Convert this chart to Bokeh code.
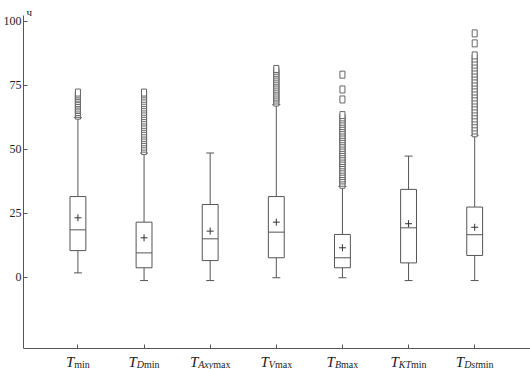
from bokeh.plotting import figure
from bokeh.models import Range1d, FixedTicker, Label, LinearAxis
from bokeh.embed import file_html
from bokeh.resources import INLINE

# ---------------- data ----------------
positions = [1, 2, 3, 4, 5, 6, 7]
sub_italic = ["", "D", "Axy", "V", "B", "KT", "Dst"]
sub_roman = ["min", "min", "max", "max", "max", "min", "min"]

q1 = [10.5, 3.8, 6.6, 7.7, 3.8, 5.7, 8.6]
median = [18.6, 9.6, 15.1, 17.7, 7.7, 19.4, 16.7]
q3 = [31.6, 21.6, 28.5, 31.6, 16.8, 34.4, 27.5]
lower = [1.8, -1.2, -1.2, -0.1, -0.1, -1.2, -1.2]
upper = [62.4, 48.6, 48.6, 67.5, 35.5, 47.4, 55.5]
mean = [23.3, 15.5, 18.1, 21.6, 11.6, 21.0, 19.6]

out_tmin = [63.2, 63.9, 64.6, 65.4, 66.0, 66.8, 67.5, 68.1, 68.9, 69.6, 70.2, 70.9, 71.5, 72.2]
out_tdmin = [49.4, 50.3, 51.1, 52.0, 52.8, 53.7, 54.5, 55.4, 56.2, 57.1, 58.0, 58.8, 59.6, 60.5,
             61.3, 62.2, 63.0, 63.9, 64.7, 65.6, 66.4, 67.3, 68.1, 69.0, 69.8, 70.7, 71.5, 72.2]
out_taxymax = []
out_tvmax = [68.3, 69.1, 69.9, 70.6, 71.4, 72.2, 73.0, 73.7, 74.5, 75.3, 76.1, 76.8, 77.6, 78.4,
             79.2, 79.9, 80.7, 81.4]
out_tbmax = [36.2, 37.0, 37.9, 38.7, 39.6, 40.4, 41.3, 42.1, 43.0, 43.8, 44.7, 45.5, 46.4, 47.2,
             48.1, 48.9, 49.8, 50.6, 51.5, 52.3, 53.2, 54.0, 54.9, 55.7, 56.6, 57.4, 58.3, 59.1,
             60.0, 60.8, 61.7, 62.5, 63.4, 69.5, 73.4, 79.2]
out_tktmin = []
out_tdstmin = [56.3, 57.4, 58.6, 59.8, 61.0, 62.1, 63.3, 64.5, 65.6, 66.8, 68.0, 69.1, 70.3, 71.5,
               72.6, 73.8, 75.0, 76.1, 77.3, 78.5, 79.6, 80.8, 82.0, 83.1, 84.3, 85.5, 86.7,
               91.4, 95.3]
outliers = [out_tmin, out_tdmin, out_taxymax, out_tvmax, out_tbmax, out_tktmin, out_tdstmin]

y_ticks = [0, 25, 50, 75, 100]
y_unit = "ч"

# ---------------- style / layout ----------------
LINE = "#555555"
TEXT = "#222222"
FONT = "Liberation Serif"
W, H = 530, 369
Y_AXIS_LO, Y_AXIS_HI = -27.7, 102.3      # extent of the drawn axes
YLO, YHI = -35.92, 108.14                # frame range (room for labels)
XLO, XHI = 0.177, 7.844
ppu = H / (YHI - YLO)

p = figure(width=W, height=H, output_backend="svg", toolbar_location=None,
           x_range=Range1d(XLO, XHI), y_range=Range1d(YLO, YHI),
           x_axis_location=None,
           min_border_left=0, min_border_right=0, min_border_top=0,
           min_border_bottom=0)
p.outline_line_color = None
p.grid.visible = False
p.background_fill_color = "white"

xaxis = LinearAxis(fixed_location=Y_AXIS_LO, ticker=FixedTicker(ticks=positions),
                   major_label_overrides={k: "" for k in positions})
p.add_layout(xaxis, "below")
p.yaxis.ticker = FixedTicker(ticks=y_ticks)
p.yaxis.bounds = (Y_AXIS_LO, Y_AXIS_HI)
for ax in (xaxis, p.yaxis[0]):
    ax.axis_line_color = LINE
    ax.major_tick_line_color = LINE
    ax.major_tick_in = 4
    ax.major_tick_out = 0
    ax.minor_tick_line_color = None
xaxis.major_label_standoff = 0
p.yaxis.major_label_standoff = 2
p.yaxis.major_label_text_font = FONT
p.yaxis.major_label_text_font_size = "12px"
p.yaxis.major_label_text_color = TEXT

BW = 0.12   # half box width
CW = 0.06   # half cap width

# whiskers
p.segment(x0=positions, y0=q3, x1=positions, y1=upper, line_color=LINE, line_width=1)
p.segment(x0=positions, y0=q1, x1=positions, y1=lower, line_color=LINE, line_width=1)
# caps
p.segment(x0=[x - CW for x in positions], y0=upper, x1=[x + CW for x in positions], y1=upper,
          line_color=LINE, line_width=1)
p.segment(x0=[x - CW for x in positions], y0=lower, x1=[x + CW for x in positions], y1=lower,
          line_color=LINE, line_width=1)
# boxes
p.quad(left=[x - BW for x in positions], right=[x + BW for x in positions], bottom=q1, top=q3,
       fill_color="white", line_color=LINE, line_width=1)
# medians
p.segment(x0=[x - BW for x in positions], y0=median, x1=[x + BW for x in positions], y1=median,
          line_color=LINE, line_width=1)
# means
p.scatter(x=positions, y=mean, marker="cross", size=7, line_color="#333333", line_width=1)

# outliers
ox, oy = [], []
for x, vals in zip(positions, outliers):
    for v in vals:
        ox.append(x)
        oy.append(v)
p.rect(x=ox, y=oy, width=5, height=7, width_units="screen", height_units="screen",
       fill_color="white", line_color="#666666", line_width=1)

# unit label
p.add_layout(Label(x=XLO, y=Y_AXIS_HI + 1.2, x_offset=3, text=y_unit, text_font=FONT,
                   text_font_size="11px", text_color=TEXT, text_baseline="alphabetic"))

# category labels: italic T with subscript
WID_IT = {"T": .556, "D": .722, "A": .611, "x": .444, "y": .444, "V": .611, "B": .611,
          "K": .667, "s": .389, "t": .278}
WID_RM = {"m": .778, "i": .278, "n": .5, "a": .444, "x": .5}
T_SIZE, S_SIZE = 15, 10
yT = Y_AXIS_LO - 13.7 / ppu
yS = Y_AXIS_LO - 16.0 / ppu
for x, si, sr in zip(positions, sub_italic, sub_roman):
    wT = WID_IT["T"] * T_SIZE
    wI = sum(WID_IT[c] for c in si) * S_SIZE
    wR = sum(WID_RM[c] for c in sr) * S_SIZE
    start = -(wT + wI + wR) / 2
    p.add_layout(Label(x=x, y=yT, x_offset=start, text="T", text_font=FONT,
                       text_font_style="italic", text_font_size=f"{T_SIZE}px",
                       text_color=TEXT, text_align="left", text_baseline="alphabetic"))
    if si:
        p.add_layout(Label(x=x, y=yS, x_offset=start + wT, text=si, text_font=FONT,
                           text_font_style="italic", text_font_size=f"{S_SIZE}px",
                           text_color=TEXT, text_align="left", text_baseline="alphabetic"))
    p.add_layout(Label(x=x, y=yS, x_offset=start + wT + wI, text=sr, text_font=FONT,
                       text_font_size=f"{S_SIZE}px", text_color=TEXT,
                       text_align="left", text_baseline="alphabetic"))

open("out.html", "w").write(file_html(p, INLINE))
